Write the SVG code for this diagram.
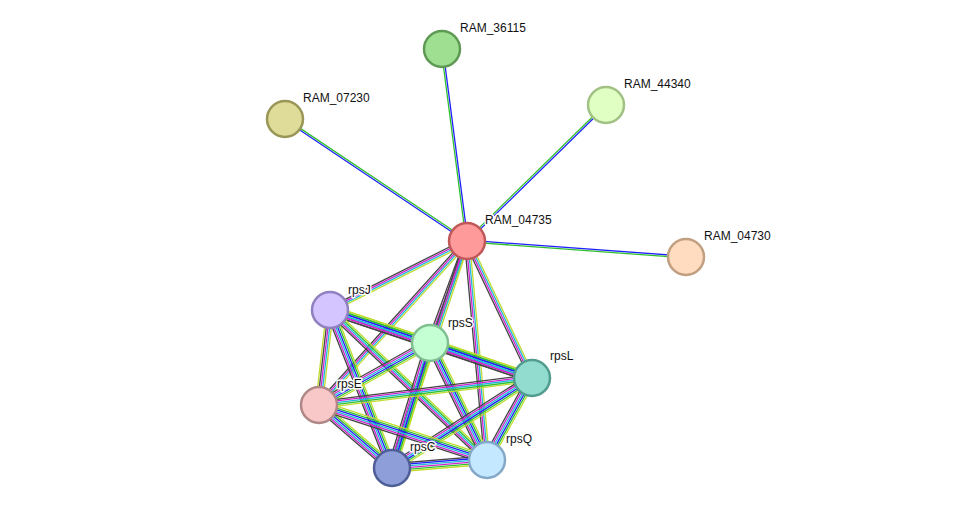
<svg xmlns="http://www.w3.org/2000/svg" width="975" height="514" viewBox="0 0 975 514">
<style>
line{stroke-width:1.3}
.k{stroke:#444}.m{stroke:#d020d0}.c{stroke:#20b8d8}.y{stroke:#c0dc30}.g{stroke:#30c030}.b{stroke:#2020ff}
.n{stroke-width:2.5}
text{font-family:"Liberation Sans",Arial,sans-serif;font-size:12px;fill:#111;stroke:#fff;stroke-width:3;paint-order:stroke;stroke-linejoin:round}
</style>
<rect width="975" height="514" fill="#fff"/>
<g id="connectors">
<g transform="translate(467,241) rotate(-97.4)"><line x2="193.6" y1="-0.85" y2="-0.85" class="g"/><line x2="193.6" y1="0.85" y2="0.85" class="b"/></g>
<g transform="translate(467,241) rotate(-146.2)"><line x2="219.1" y1="-0.85" y2="-0.85" class="b"/><line x2="219.1" y1="0.85" y2="0.85" class="g"/></g>
<g transform="translate(467,241) rotate(-44.4)"><line x2="194.5" y1="-0.85" y2="-0.85" class="g"/><line x2="194.5" y1="0.85" y2="0.85" class="b"/></g>
<g transform="translate(467,241) rotate(4.2)"><line x2="219.6" y1="-0.85" y2="-0.85" class="b"/><line x2="219.6" y1="0.85" y2="0.85" class="g"/></g>
<g transform="translate(467,241) rotate(153.3)"><line x2="153.4" y1="-2.55" y2="-2.55" class="y"/><line x2="153.4" y1="-0.85" y2="-0.85" class="c"/><line x2="153.4" y1="0.85" y2="0.85" class="m"/><line x2="153.4" y1="2.55" y2="2.55" class="k"/></g>
<g transform="translate(467,241) rotate(110.1)"><line x2="108.5" y1="-2.55" y2="-2.55" class="y"/><line x2="108.5" y1="-0.85" y2="-0.85" class="c"/><line x2="108.5" y1="0.85" y2="0.85" class="m"/><line x2="108.5" y1="2.55" y2="2.55" class="k"/></g>
<g transform="translate(467,241) rotate(64.6)"><line x2="151.6" y1="-2.55" y2="-2.55" class="y"/><line x2="151.6" y1="-0.85" y2="-0.85" class="c"/><line x2="151.6" y1="0.85" y2="0.85" class="m"/><line x2="151.6" y1="2.55" y2="2.55" class="k"/></g>
<g transform="translate(467,241) rotate(132.1)"><line x2="220.9" y1="-2.55" y2="-2.55" class="y"/><line x2="220.9" y1="-0.85" y2="-0.85" class="c"/><line x2="220.9" y1="0.85" y2="0.85" class="m"/><line x2="220.9" y1="2.55" y2="2.55" class="k"/></g>
<g transform="translate(467,241) rotate(108.3)"><line x2="239.1" y1="-2.55" y2="-2.55" class="y"/><line x2="239.1" y1="-0.85" y2="-0.85" class="c"/><line x2="239.1" y1="0.85" y2="0.85" class="m"/><line x2="239.1" y1="2.55" y2="2.55" class="k"/></g>
<g transform="translate(467,241) rotate(84.8)"><line x2="219.9" y1="-2.55" y2="-2.55" class="y"/><line x2="219.9" y1="-0.85" y2="-0.85" class="c"/><line x2="219.9" y1="0.85" y2="0.85" class="m"/><line x2="219.9" y1="2.55" y2="2.55" class="k"/></g>

<g transform="translate(330,310) rotate(18.3)"><line x2="105.3" y1="-4.25" y2="-4.25" class="y"/><line x2="105.3" y1="-2.55" y2="-2.55" class="g"/><line x2="105.3" y1="-0.85" y2="-0.85" class="b"/><line x2="105.3" y1="0.85" y2="0.85" class="c"/><line x2="105.3" y1="2.55" y2="2.55" class="m"/><line x2="105.3" y1="4.25" y2="4.25" class="k"/></g>
<g transform="translate(330,310) rotate(18.6)"><line x2="213.1" y1="-4.25" y2="-4.25" class="y"/><line x2="213.1" y1="-2.55" y2="-2.55" class="g"/><line x2="213.1" y1="-0.85" y2="-0.85" class="b"/><line x2="213.1" y1="0.85" y2="0.85" class="c"/><line x2="213.1" y1="2.55" y2="2.55" class="m"/><line x2="213.1" y1="4.25" y2="4.25" class="k"/></g>
<g transform="translate(330,310) rotate(96.6)"><line x2="95.6" y1="-3.4" y2="-3.4" class="y"/><line x2="95.6" y1="-1.7" y2="-1.7" class="c"/><line x2="95.6" y1="0" y2="0" class="m"/><line x2="95.6" y1="1.7" y2="1.7" class="k"/><line x2="95.6" y1="3.4" y2="3.4" class="y"/></g>
<g transform="translate(330,310) rotate(68.6)"><line x2="169.7" y1="-4.25" y2="-4.25" class="y"/><line x2="169.7" y1="-2.55" y2="-2.55" class="g"/><line x2="169.7" y1="-0.85" y2="-0.85" class="b"/><line x2="169.7" y1="0.85" y2="0.85" class="c"/><line x2="169.7" y1="2.55" y2="2.55" class="m"/><line x2="169.7" y1="4.25" y2="4.25" class="k"/></g>
<g transform="translate(330,310) rotate(43.7)"><line x2="217.1" y1="-3.4" y2="-3.4" class="y"/><line x2="217.1" y1="-1.7" y2="-1.7" class="g"/><line x2="217.1" y1="0" y2="0" class="c"/><line x2="217.1" y1="1.7" y2="1.7" class="m"/><line x2="217.1" y1="3.4" y2="3.4" class="k"/></g>
<g transform="translate(430,343) rotate(18.9)"><line x2="107.8" y1="-4.25" y2="-4.25" class="y"/><line x2="107.8" y1="-2.55" y2="-2.55" class="g"/><line x2="107.8" y1="-0.85" y2="-0.85" class="b"/><line x2="107.8" y1="0.85" y2="0.85" class="c"/><line x2="107.8" y1="2.55" y2="2.55" class="m"/><line x2="107.8" y1="4.25" y2="4.25" class="k"/></g>
<g transform="translate(430,343) rotate(150.8)"><line x2="127.1" y1="-4.25" y2="-4.25" class="y"/><line x2="127.1" y1="-2.55" y2="-2.55" class="g"/><line x2="127.1" y1="-0.85" y2="-0.85" class="b"/><line x2="127.1" y1="0.85" y2="0.85" class="c"/><line x2="127.1" y1="2.55" y2="2.55" class="m"/><line x2="127.1" y1="4.25" y2="4.25" class="k"/></g>
<g transform="translate(430,343) rotate(106.9)"><line x2="130.6" y1="-4.25" y2="-4.25" class="y"/><line x2="130.6" y1="-2.55" y2="-2.55" class="g"/><line x2="130.6" y1="-0.85" y2="-0.85" class="b"/><line x2="130.6" y1="0.85" y2="0.85" class="c"/><line x2="130.6" y1="2.55" y2="2.55" class="m"/><line x2="130.6" y1="4.25" y2="4.25" class="k"/></g>
<g transform="translate(430,343) rotate(64.0)"><line x2="130.1" y1="-4.25" y2="-4.25" class="y"/><line x2="130.1" y1="-2.55" y2="-2.55" class="g"/><line x2="130.1" y1="-0.85" y2="-0.85" class="b"/><line x2="130.1" y1="0.85" y2="0.85" class="c"/><line x2="130.1" y1="2.55" y2="2.55" class="m"/><line x2="130.1" y1="4.25" y2="4.25" class="k"/></g>
<g transform="translate(532,378) rotate(172.8)"><line x2="214.7" y1="-3.4" y2="-3.4" class="y"/><line x2="214.7" y1="-1.7" y2="-1.7" class="g"/><line x2="214.7" y1="0" y2="0" class="c"/><line x2="214.7" y1="1.7" y2="1.7" class="m"/><line x2="214.7" y1="3.4" y2="3.4" class="k"/></g>
<g transform="translate(532,378) rotate(147.3)"><line x2="166.4" y1="-4.25" y2="-4.25" class="y"/><line x2="166.4" y1="-2.55" y2="-2.55" class="g"/><line x2="166.4" y1="-0.85" y2="-0.85" class="b"/><line x2="166.4" y1="0.85" y2="0.85" class="c"/><line x2="166.4" y1="2.55" y2="2.55" class="m"/><line x2="166.4" y1="4.25" y2="4.25" class="k"/></g>
<g transform="translate(532,378) rotate(118.8)"><line x2="93.5" y1="-4.25" y2="-4.25" class="y"/><line x2="93.5" y1="-2.55" y2="-2.55" class="g"/><line x2="93.5" y1="-0.85" y2="-0.85" class="b"/><line x2="93.5" y1="0.85" y2="0.85" class="c"/><line x2="93.5" y1="2.55" y2="2.55" class="m"/><line x2="93.5" y1="4.25" y2="4.25" class="k"/></g>
<g transform="translate(319,405) rotate(40.8)"><line x2="96.4" y1="-4.25" y2="-4.25" class="y"/><line x2="96.4" y1="-2.55" y2="-2.55" class="g"/><line x2="96.4" y1="-0.85" y2="-0.85" class="b"/><line x2="96.4" y1="0.85" y2="0.85" class="c"/><line x2="96.4" y1="2.55" y2="2.55" class="m"/><line x2="96.4" y1="4.25" y2="4.25" class="k"/></g>
<g transform="translate(319,405) rotate(18.1)"><line x2="176.8" y1="-4.25" y2="-4.25" class="y"/><line x2="176.8" y1="-2.55" y2="-2.55" class="g"/><line x2="176.8" y1="-0.85" y2="-0.85" class="b"/><line x2="176.8" y1="0.85" y2="0.85" class="c"/><line x2="176.8" y1="2.55" y2="2.55" class="m"/><line x2="176.8" y1="4.25" y2="4.25" class="k"/></g>
<g transform="translate(392,468) rotate(-4.8)"><line x2="95.3" y1="-4.25" y2="-4.25" class="k"/><line x2="95.3" y1="-2.55" y2="-2.55" class="b"/><line x2="95.3" y1="-0.85" y2="-0.85" class="c"/><line x2="95.3" y1="0.85" y2="0.85" class="m"/><line x2="95.3" y1="2.55" y2="2.55" class="g"/><line x2="95.3" y1="4.25" y2="4.25" class="y"/></g>
</g>
<g id="RAM_36115"><circle cx="442" cy="49" r="18" fill="#9fdf92" stroke="#5f9a55" class="n"/><text x="460" y="32">RAM_36115</text></g>
<g id="RAM_07230"><circle cx="285" cy="119" r="18" fill="#dfdb98" stroke="#9a9658" class="n"/><text x="303" y="102">RAM_07230</text></g>
<g id="RAM_44340"><circle cx="606" cy="105" r="18" fill="#e0ffc3" stroke="#a1c185" class="n"/><text x="624" y="88">RAM_44340</text></g>
<g id="RAM_04730"><circle cx="686" cy="257" r="18" fill="#ffdcbf" stroke="#c0a080" class="n"/><text x="704" y="240">RAM_04730</text></g>
<g id="RAM_04735"><circle cx="467" cy="241" r="18" fill="#ff9a9a" stroke="#c05858" class="n"/><text x="485" y="224">RAM_04735</text></g>
<g id="rpsJ"><circle cx="330" cy="310" r="18" fill="#d4c4ff" stroke="#9080c0" class="n"/><text x="348" y="294">rpsJ</text></g>
<g id="rpsS"><circle cx="430" cy="343" r="18" fill="#c4ffd4" stroke="#80c090" class="n"/><text x="448" y="327">rpsS</text></g>
<g id="rpsL"><circle cx="532" cy="378" r="18" fill="#92dccf" stroke="#529c8f" class="n"/><text x="550" y="360">rpsL</text></g>
<g id="rpsE"><circle cx="319" cy="405" r="18" fill="#f8c8c8" stroke="#b08888" class="n"/><text x="337" y="388">rpsE</text></g>
<g id="rpsC"><circle cx="392" cy="468" r="18" fill="#8e9ed8" stroke="#505e98" class="n"/><text x="410" y="451">rpsC</text></g>
<g id="rpsQ"><circle cx="487" cy="460" r="18" fill="#c4e8ff" stroke="#84a8c8" class="n"/><text x="506" y="443">rpsQ</text></g>
</svg>
